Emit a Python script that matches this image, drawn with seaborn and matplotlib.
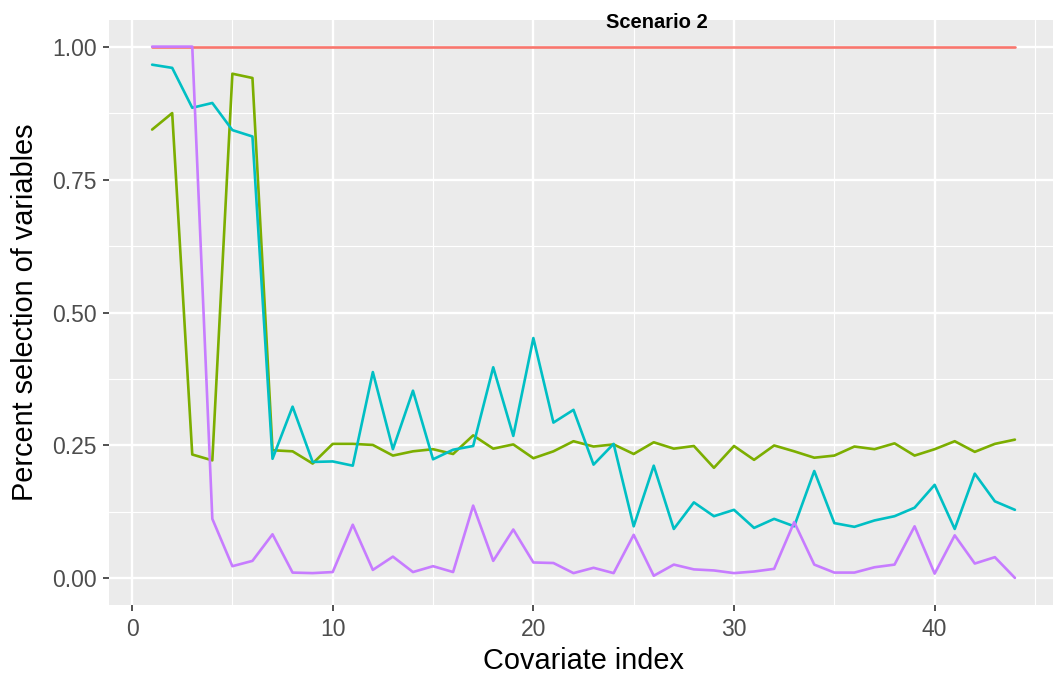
import numpy as np
import pandas as pd
import matplotlib
matplotlib.use("Agg")
import matplotlib.pyplot as plt
import seaborn as sns
from matplotlib.ticker import MultipleLocator

covariate = list(range(1, 45))

method_1 = [1.0] * 44

method_2 = [0.844, 0.875, 0.233, 0.222, 0.949, 0.941, 0.241, 0.239, 0.216, 0.253,
            0.253, 0.251, 0.231, 0.239, 0.243, 0.234, 0.269, 0.244, 0.252, 0.226,
            0.239, 0.258, 0.248, 0.252, 0.234, 0.256, 0.244, 0.249, 0.208, 0.249,
            0.223, 0.250, 0.239, 0.227, 0.231, 0.248, 0.243, 0.254, 0.231, 0.243,
            0.258, 0.238, 0.253, 0.261]

method_3 = [0.966, 0.960, 0.885, 0.894, 0.843, 0.831, 0.225, 0.323, 0.219, 0.220,
            0.212, 0.388, 0.243, 0.353, 0.224, 0.242, 0.249, 0.397, 0.268, 0.452,
            0.293, 0.317, 0.214, 0.253, 0.098, 0.212, 0.093, 0.143, 0.117, 0.129,
            0.095, 0.112, 0.098, 0.202, 0.104, 0.097, 0.109, 0.117, 0.133, 0.176,
            0.093, 0.197, 0.145, 0.129]

method_4 = [1.0, 1.0, 1.0, 0.112, 0.023, 0.033, 0.083, 0.011, 0.010, 0.012,
            0.101, 0.016, 0.041, 0.012, 0.023, 0.012, 0.137, 0.033, 0.092, 0.030,
            0.029, 0.010, 0.020, 0.010, 0.082, 0.005, 0.026, 0.017, 0.015, 0.010,
            0.013, 0.018, 0.106, 0.026, 0.011, 0.011, 0.021, 0.026, 0.098, 0.009,
            0.081, 0.028, 0.040, 0.001]

methods = ["Method 1", "Method 2", "Method 3", "Method 4"]
colors = ["#F8766D", "#7CAE00", "#00BFC4", "#C77CFF"]

df = pd.concat([
    pd.DataFrame({"covariate": covariate, "selection": vals, "method": name})
    for name, vals in zip(methods, [method_1, method_2, method_3, method_4])
])

sns.set_theme(style="darkgrid", rc={
    "axes.facecolor": "#EBEBEB",
    "grid.color": "white",
    "axes.edgecolor": "#EBEBEB",
})
plt.rcParams["font.family"] = ["Liberation Sans", "DejaVu Sans"]

fig = plt.figure(figsize=(10.53, 6.76), dpi=100)
ax = fig.add_axes([0.1035, 0.105, 0.9013, 0.8654])

sns.lineplot(data=df, x="covariate", y="selection", hue="method",
             palette=colors, linewidth=1.9, legend=False, ax=ax)

ax.set_xlim(-1.15, 46.15)
ax.set_ylim(-0.05, 1.05)
ax.xaxis.set_major_locator(MultipleLocator(10))
ax.xaxis.set_minor_locator(MultipleLocator(5))
ax.yaxis.set_major_locator(MultipleLocator(0.25))
ax.yaxis.set_minor_locator(MultipleLocator(0.125))
ax.set_yticklabels([f"{v:.2f}" for v in ax.get_yticks()])
ax.grid(which="major", color="white", linewidth=1.7)
ax.grid(which="minor", color="white", linewidth=0.85)
for s in ax.spines.values():
    s.set_visible(False)

ax.tick_params(axis="both", which="major", direction="out", length=4, width=1.2,
               color="#333333", labelsize=16.5, labelcolor="#4D4D4D", pad=5,
               bottom=True, left=True)
ax.tick_params(axis="both", which="minor", length=0)

ax.set_xlabel("Covariate index", fontsize=20.8, color="black", labelpad=5)
ax.set_ylabel("Percent selection of variables", fontsize=20.8, color="black", labelpad=9)

fig.text(657 / 1053, 1 - 22 / 676, "Scenario 2", fontsize=14.5, fontweight="bold",
         color="black", ha="center", va="center")

fig.savefig("out.png", dpi=100)
